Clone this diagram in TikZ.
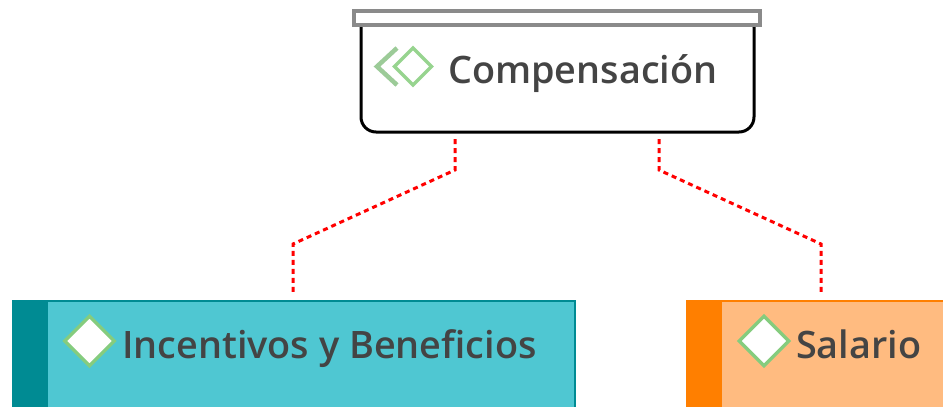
\documentclass[tikz,border=0pt]{standalone}
\usepackage{fontspec}
\setmainfont{Open Sans}[UprightFont=* Semibold,BoldFont=* Bold]
\usetikzlibrary{shapes.geometric,calc}
\definecolor{teald}{HTML}{008B93}
\definecolor{tealf}{HTML}{4FC7D2}
\definecolor{orand}{HTML}{FF7F00}
\definecolor{oranf}{HTML}{FFBB80}
\definecolor{txt}{HTML}{444444}
\definecolor{grn}{HTML}{85CC7E}
\definecolor{grnl}{HTML}{97D48F}
\definecolor{grnc}{HTML}{9CCB98}
\definecolor{barg}{HTML}{8A8A8A}
\tikzset{
  lbl/.style={anchor=base west,inner sep=0pt,text=txt,font=\fontsize{37.8}{37.8}\selectfont},
  box/.style={anchor=north west,inner sep=0pt,outer sep=0pt,rectangle},
  dia/.style={diamond,aspect=1,inner sep=0pt,outer sep=0pt,draw=grn,line width=3.2pt,fill=white},
  link/.style={draw=red,line width=3pt,dash pattern=on 5pt off 4pt},
}
\begin{document}
\begin{tikzpicture}[x=1pt,y=-1pt]
\useasboundingbox (0,0) rectangle (943,407);
% top box
\node[box,draw=black,line width=3pt,fill=white,rounded corners=15pt,minimum width=393pt,minimum height=120pt] (top) at (361,12) {};
\node[box,draw=barg,line width=3.6pt,fill=white,minimum width=406pt,minimum height=14pt] (bar) at (354,11) {};
% icon
\node[dia,draw=grnl,fill=none,minimum size=37pt] (icon) at (413,66.5) {};
\coordinate (chevT) at (397,48);
\coordinate (chevL) at (377,66.5);
\coordinate (chevB) at (397,85);
\draw[draw=grnc,line width=4.5pt] (chevT) -- (chevL) -- (chevB);
\node[lbl] (comp) at (448,83) {Compensación};
% left child
\node[box,draw=teald,line width=2pt,fill=tealf,minimum width=562pt,minimum height=112pt] (inc) at (13,300.5) {};
\node[box,fill=teald,minimum width=35pt,minimum height=112pt] (incband) at (13,300.5) {};
\node[dia,minimum size=49.5pt] (incd) at (89.5,341) {};
\node[lbl] (inct) at (122,358.5) {Incentivos y Beneficios};
% right child
\node[box,draw=orand,line width=2pt,fill=oranf,minimum width=300pt,minimum height=112pt] (sal) at (687,300.5) {};
\node[box,fill=orand,minimum width=35pt,minimum height=112pt] (salband) at (687,300.5) {};
\node[dia,minimum size=49.5pt] (sald) at (764,341) {};
\node[lbl] (salt) at (796,358.5) {Salario};
% connectors
\coordinate (a1) at (455,170);
\coordinate (a2) at (293,244);
\coordinate (b1) at (659,170);
\coordinate (b2) at (821,244);
\draw[link,shorten <=7pt,shorten >=8pt] (top.south -| a1) -- (a1) -- (a2) -- (inc.north -| a2);
\draw[link,shorten <=7pt,shorten >=8pt] (top.south -| b1) -- (b1) -- (b2) -- (sal.north -| b2);
\end{tikzpicture}
\end{document}
